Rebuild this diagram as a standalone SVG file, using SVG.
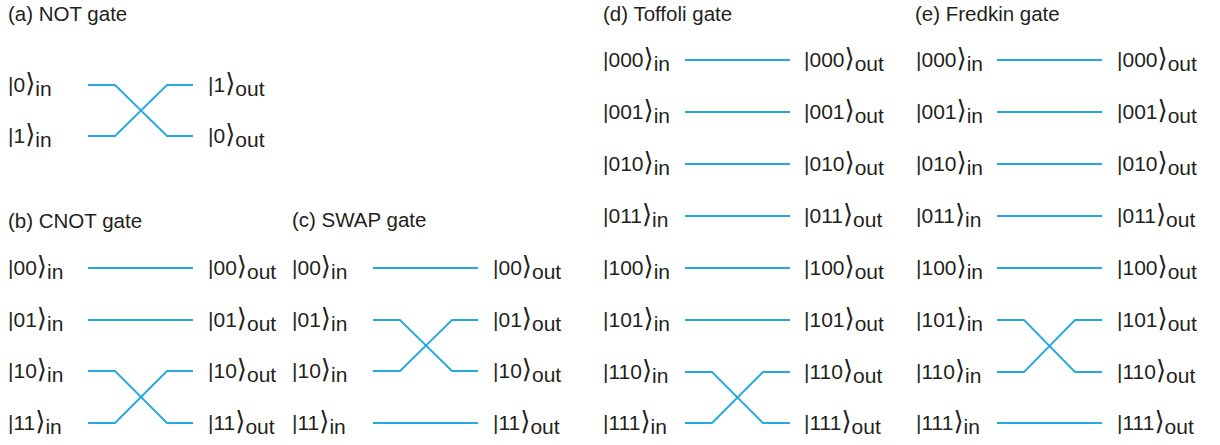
<svg xmlns="http://www.w3.org/2000/svg" width="1220" height="445" viewBox="0 0 1220 445">
<style>
.t{font-family:"Liberation Sans","DejaVu Sans",sans-serif;font-size:20.5px;fill:#231f20}
.k{font-family:"Liberation Sans","DejaVu Sans",sans-serif;font-size:21px;fill:#231f20}
.b{font-family:"DejaVu Sans",sans-serif;font-size:26px}
.w{fill:none;stroke:#23aae1;stroke-width:1.8}
</style>
<rect width="1220" height="445" fill="#ffffff"/>

<g id="gate-a">
<text class="t" x="8" y="21">(a) NOT gate</text>
<g id="a-labels">
<text class="k" x="8" y="92">|0<tspan class="b">⟩</tspan><tspan dy="4">in</tspan></text>
<text class="k" x="8" y="143">|1<tspan class="b">⟩</tspan><tspan dy="4">in</tspan></text>
<text class="k" x="208" y="92">|1<tspan class="b">⟩</tspan><tspan dy="4">out</tspan></text>
<text class="k" x="208" y="143">|0<tspan class="b">⟩</tspan><tspan dy="4">out</tspan></text>
</g>
</g>

<g id="gate-b">
<text class="t" x="8" y="228">(b) CNOT gate</text>
<g id="b-labels">
<text class="k" x="8" y="275">|00<tspan class="b">⟩</tspan><tspan dy="4">in</tspan></text>
<text class="k" x="8" y="327">|01<tspan class="b">⟩</tspan><tspan dy="4">in</tspan></text>
<text class="k" x="8" y="378">|10<tspan class="b">⟩</tspan><tspan dy="4">in</tspan></text>
<text class="k" x="8" y="430">|11<tspan class="b">⟩</tspan><tspan dy="4">in</tspan></text>
<text class="k" x="208" y="275">|00<tspan class="b">⟩</tspan><tspan dy="4">out</tspan></text>
<text class="k" x="208" y="327">|01<tspan class="b">⟩</tspan><tspan dy="4">out</tspan></text>
<text class="k" x="208" y="378">|10<tspan class="b">⟩</tspan><tspan dy="4">out</tspan></text>
<text class="k" x="208" y="430">|11<tspan class="b">⟩</tspan><tspan dy="4">out</tspan></text>
</g>
</g>

<g id="gate-c">
<text class="t" x="292" y="227">(c) SWAP gate</text>
<g id="c-labels">
<text class="k" x="292" y="275">|00<tspan class="b">⟩</tspan><tspan dy="4">in</tspan></text>
<text class="k" x="292" y="327">|01<tspan class="b">⟩</tspan><tspan dy="4">in</tspan></text>
<text class="k" x="292" y="378">|10<tspan class="b">⟩</tspan><tspan dy="4">in</tspan></text>
<text class="k" x="292" y="430">|11<tspan class="b">⟩</tspan><tspan dy="4">in</tspan></text>
<text class="k" x="493" y="275">|00<tspan class="b">⟩</tspan><tspan dy="4">out</tspan></text>
<text class="k" x="493" y="327">|01<tspan class="b">⟩</tspan><tspan dy="4">out</tspan></text>
<text class="k" x="493" y="378">|10<tspan class="b">⟩</tspan><tspan dy="4">out</tspan></text>
<text class="k" x="493" y="430">|11<tspan class="b">⟩</tspan><tspan dy="4">out</tspan></text>
</g>
</g>

<g id="gate-d">
<text class="t" x="603" y="21">(d) Toffoli gate</text>
<g id="d-labels">
<text class="k" x="603" y="67">|000<tspan class="b">⟩</tspan><tspan dy="4">in</tspan></text>
<text class="k" x="603" y="119">|001<tspan class="b">⟩</tspan><tspan dy="4">in</tspan></text>
<text class="k" x="603" y="171">|010<tspan class="b">⟩</tspan><tspan dy="4">in</tspan></text>
<text class="k" x="603" y="223">|011<tspan class="b">⟩</tspan><tspan dy="4">in</tspan></text>
<text class="k" x="603" y="275">|100<tspan class="b">⟩</tspan><tspan dy="4">in</tspan></text>
<text class="k" x="603" y="327">|101<tspan class="b">⟩</tspan><tspan dy="4">in</tspan></text>
<text class="k" x="603" y="379">|110<tspan class="b">⟩</tspan><tspan dy="4">in</tspan></text>
<text class="k" x="603" y="430">|111<tspan class="b">⟩</tspan><tspan dy="4">in</tspan></text>
<text class="k" x="804" y="67">|000<tspan class="b">⟩</tspan><tspan dy="4">out</tspan></text>
<text class="k" x="804" y="119">|001<tspan class="b">⟩</tspan><tspan dy="4">out</tspan></text>
<text class="k" x="804" y="171">|010<tspan class="b">⟩</tspan><tspan dy="4">out</tspan></text>
<text class="k" x="804" y="223">|011<tspan class="b">⟩</tspan><tspan dy="4">out</tspan></text>
<text class="k" x="804" y="275">|100<tspan class="b">⟩</tspan><tspan dy="4">out</tspan></text>
<text class="k" x="804" y="327">|101<tspan class="b">⟩</tspan><tspan dy="4">out</tspan></text>
<text class="k" x="804" y="379">|110<tspan class="b">⟩</tspan><tspan dy="4">out</tspan></text>
<text class="k" x="804" y="430">|111<tspan class="b">⟩</tspan><tspan dy="4">out</tspan></text>
</g>
</g>

<g id="gate-e">
<text class="t" x="915" y="21">(e) Fredkin gate</text>
<g id="e-labels">
<text class="k" x="916" y="67">|000<tspan class="b">⟩</tspan><tspan dy="4">in</tspan></text>
<text class="k" x="916" y="119">|001<tspan class="b">⟩</tspan><tspan dy="4">in</tspan></text>
<text class="k" x="916" y="171">|010<tspan class="b">⟩</tspan><tspan dy="4">in</tspan></text>
<text class="k" x="916" y="223">|011<tspan class="b">⟩</tspan><tspan dy="4">in</tspan></text>
<text class="k" x="916" y="275">|100<tspan class="b">⟩</tspan><tspan dy="4">in</tspan></text>
<text class="k" x="916" y="327">|101<tspan class="b">⟩</tspan><tspan dy="4">in</tspan></text>
<text class="k" x="916" y="379">|110<tspan class="b">⟩</tspan><tspan dy="4">in</tspan></text>
<text class="k" x="916" y="430">|111<tspan class="b">⟩</tspan><tspan dy="4">in</tspan></text>
<text class="k" x="1117" y="67">|000<tspan class="b">⟩</tspan><tspan dy="4">out</tspan></text>
<text class="k" x="1117" y="119">|001<tspan class="b">⟩</tspan><tspan dy="4">out</tspan></text>
<text class="k" x="1117" y="171">|010<tspan class="b">⟩</tspan><tspan dy="4">out</tspan></text>
<text class="k" x="1117" y="223">|011<tspan class="b">⟩</tspan><tspan dy="4">out</tspan></text>
<text class="k" x="1117" y="275">|100<tspan class="b">⟩</tspan><tspan dy="4">out</tspan></text>
<text class="k" x="1117" y="327">|101<tspan class="b">⟩</tspan><tspan dy="4">out</tspan></text>
<text class="k" x="1117" y="379">|110<tspan class="b">⟩</tspan><tspan dy="4">out</tspan></text>
<text class="k" x="1117" y="430">|111<tspan class="b">⟩</tspan><tspan dy="4">out</tspan></text>
</g>
</g>

<g id="connectors">
<!-- (a) -->
<path class="w" d="M88 85H115L167 136H193"/>
<path class="w" d="M88 136H115L167 85H193"/>
<!-- (b) -->
<path class="w" d="M88 268H193"/>
<path class="w" d="M88 320H193"/>
<path class="w" d="M88 371H115L167 423H193"/>
<path class="w" d="M88 423H115L167 371H193"/>
<!-- (c) -->
<path class="w" d="M373 268H478"/>
<path class="w" d="M373 320H400L452 371H478"/>
<path class="w" d="M373 371H400L452 320H478"/>
<path class="w" d="M373 423H478"/>
<!-- (d) -->
<path class="w" d="M685 60H790"/>
<path class="w" d="M685 112H790"/>
<path class="w" d="M685 164H790"/>
<path class="w" d="M685 216H790"/>
<path class="w" d="M685 268H790"/>
<path class="w" d="M685 320H790"/>
<path class="w" d="M685 372H712L763 423H790"/>
<path class="w" d="M685 423H712L763 372H790"/>
<!-- (e) -->
<path class="w" d="M997 60H1102"/>
<path class="w" d="M997 112H1102"/>
<path class="w" d="M997 164H1102"/>
<path class="w" d="M997 216H1102"/>
<path class="w" d="M997 268H1102"/>
<path class="w" d="M997 320H1024L1075 372H1102"/>
<path class="w" d="M997 372H1024L1075 320H1102"/>
<path class="w" d="M997 423H1102"/>
</g>
</svg>
